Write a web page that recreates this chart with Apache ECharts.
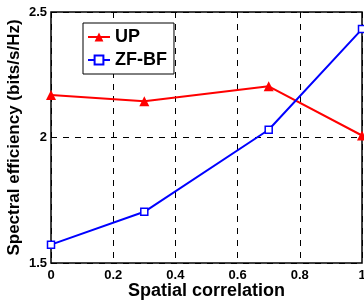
<!DOCTYPE html>
<html>
<head>
<meta charset="utf-8">
<script src="https://cdn.jsdelivr.net/npm/echarts@6/dist/echarts.min.js"></script>
<style>
  html, body { margin: 0; padding: 0; background: #fff; }
  #chart { width: 364px; height: 302px; }
</style>
</head>
<body>
<div id="chart"></div>
<script>
const correlation = [0, 0.3, 0.7, 1];
const upValues = [2.169, 2.144, 2.204, 2.008];
const zfbfValues = [1.573, 1.704, 2.031, 2.432];

const font = '"Liberation Sans", Arial, sans-serif';

const chart = echarts.init(document.getElementById('chart'));
const options = {
  animation: false,
  grid: {
    left: 51,
    top: 12,
    right: 2,
    bottom: 39,
    outerBoundsMode: 'none',
    show: true,
    borderColor: '#000',
    borderWidth: 1.5
  },
  legend: {
    orient: 'vertical',
    left: 83,
    top: 23,
    padding: [5, 7, 5, 4],
    itemGap: 5,
    itemWidth: 22,
    itemHeight: 11,
    borderColor: '#000',
    borderWidth: 1,
    backgroundColor: '#fff',
    textStyle: { color: '#000', fontFamily: font, fontWeight: 'bold', fontSize: 18 },
    data: ['UP', 'ZF-BF']
  },
  xAxis: {
    type: 'value',
    min: 0,
    max: 1,
    interval: 0.2,
    name: 'Spatial correlation',
    nameLocation: 'middle',
    nameGap: 19,
    nameMoveOverlap: false,
    nameTextStyle: { color: '#000', fontFamily: font, fontWeight: 'bold', fontSize: 18 },
    axisLine: { show: false },
    axisTick: { show: false },
    axisLabel: { color: '#000', fontFamily: font, fontWeight: 'bold', fontSize: 13, margin: 6 },
    splitLine: { show: true, lineStyle: { color: '#000', type: [6, 6], width: 1 } }
  },
  yAxis: {
    type: 'value',
    min: 1.5,
    max: 2.5,
    interval: 0.5,
    name: 'Spectral efficiency (bits/s/Hz)',
    nameLocation: 'middle',
    nameGap: 28,
    nameMoveOverlap: false,
    nameTextStyle: { color: '#000', fontFamily: font, fontWeight: 'bold', fontSize: 17 },
    axisLine: { show: false },
    axisTick: { show: false },
    axisLabel: { color: '#000', fontFamily: font, fontWeight: 'bold', fontSize: 13, margin: 4 },
    splitLine: { show: true, lineStyle: { color: '#000', type: [6, 6], width: 1 } }
  },
  series: [
    {
      name: 'UP',
      type: 'line',
      data: correlation.map((x, i) => [x, upValues[i]]),
      symbol: 'triangle',
      symbolSize: 10,
      color: '#ff0000',
      lineStyle: { width: 2, color: '#ff0000' },
      itemStyle: { color: '#ff0000' }
    },
    {
      name: 'ZF-BF',
      type: 'line',
      data: correlation.map((x, i) => [x, zfbfValues[i]]),
      symbol: 'rect',
      symbolSize: 7,
      color: '#0000ff',
      lineStyle: { width: 2, color: '#0000ff' },
      itemStyle: { color: '#fff', borderColor: '#0000ff', borderWidth: 1.5 }
    }
  ]
};
chart.setOption(options);
</script>
</body>
</html>
